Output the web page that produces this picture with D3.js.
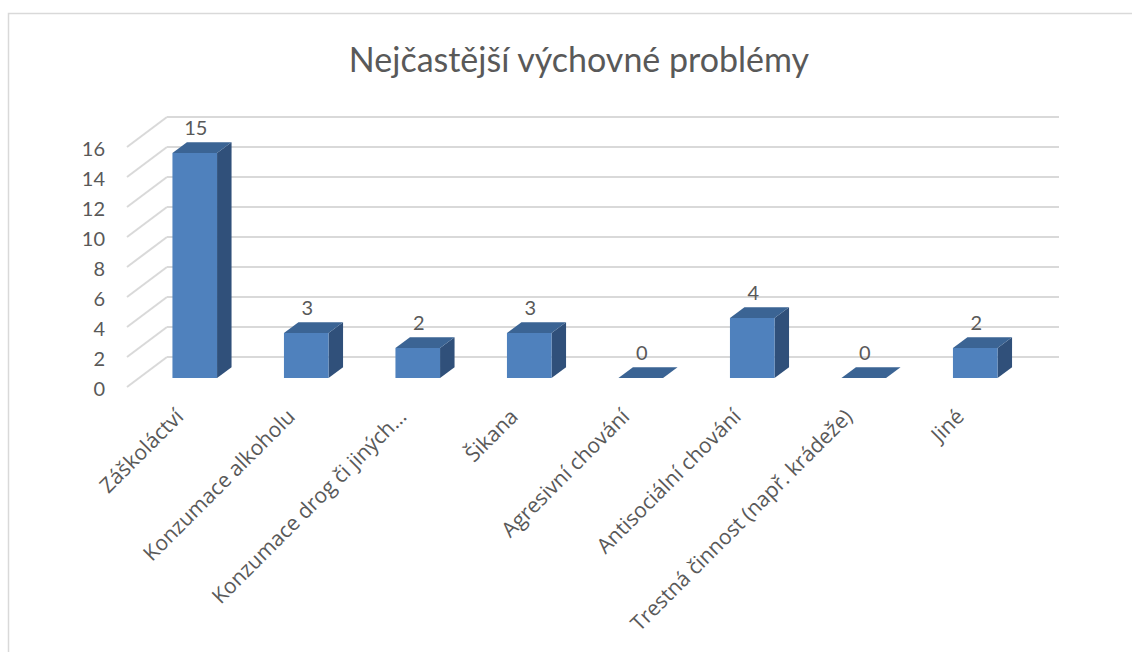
<!DOCTYPE html>
<html>
<head>
<meta charset="utf-8">
<script src="https://cdn.jsdelivr.net/npm/d3@7"></script>
<style>
    body { margin: 0; background: #fff; }
    text { font-family: Lato, "Open Sans", sans-serif; fill: #595959; }
    text.xlabel { font-family: "Open Sans", Lato, sans-serif; }
</style>
</head>
<body>
<div id="chart"></div>
<script>
// 3D column chart - "Nejčastější výchovné problémy"

const chartTitle = "Nejčastější výchovné problémy";
const categories = ["Záškoláctví", "Konzumace alkoholu", "Konzumace drog či jiných…", "Šikana",
                    "Agresivní chování", "Antisociální chování", "Trestná činnost (např. krádeže)", "Jiné"];
const counts = [15, 3, 2, 3, 0, 4, 0, 2];
const yTicks = [0, 2, 4, 6, 8, 10, 12, 14, 16];

class ProblemChart{
    constructor(){
        this.width = 1132;
        this.height = 652;
        // depth of the "box" (back wall offset) and where bars sit inside it
        this.depth = {dx: 40, dy: -30};
        this.barFront = 0.3;
        this.barDepth = 0.3625;

        this.svg = d3.select("#chart")
                     .append("svg")
                     .attr("width", this.width)
                     .attr("height", this.height);

        // outer frame
        this.svg.append("rect")
            .attr("x", 8.5)
            .attr("y", 13.5)
            .attr("width", 1200)
            .attr("height", 700)
            .style("fill", "none")
            .style("stroke", "#d9d9d9")
            .style("stroke-width", 1.5);

        this.x = d3.scaleBand()
                .domain(categories)
                .range([127, 1019])
                .paddingInner(0.6)
                .paddingOuter(0.3);
        this.y = d3.scaleLinear()
                .domain([0, 16])
                .range([387, 147]);

        this.drawTitle();
        this.drawWalls();
        this.drawBars();
        this.drawLabels();
    }

    drawTitle(){
        this.svg.append("text")
            .attr("x", 579)
            .attr("y", 72)
            .attr("text-anchor", "middle")
            .style("font-size", "34px")
            .text(chartTitle);
    }

    drawWalls(){
        let that = this;
        let x0 = this.x.range()[0], x1 = this.x.range()[1];
        let dx = this.depth.dx, dy = this.depth.dy;

        // back wall gridlines
        this.svg.selectAll(".grid")
            .data(yTicks)
            .enter().append("line")
            .attr("class", "grid")
            .attr("x1", x0 + dx)
            .attr("x2", x1 + dx)
            .attr("y1", d => that.y(d) + dy)
            .attr("y2", d => that.y(d) + dy)
            .style("stroke", "#d9d9d9")
            .style("stroke-width", 2);

        // side wall diagonals
        this.svg.selectAll(".sidegrid")
            .data(yTicks)
            .enter().append("line")
            .attr("class", "sidegrid")
            .attr("x1", x0)
            .attr("x2", x0 + dx)
            .attr("y1", d => that.y(d))
            .attr("y2", d => that.y(d) + dy)
            .style("stroke", "#d9d9d9")
            .style("stroke-width", 2);

        // y tick labels
        this.svg.selectAll(".ytick")
            .data(yTicks)
            .enter().append("text")
            .attr("class", "ytick")
            .attr("x", 105)
            .attr("y", d => that.y(d) + 9)
            .attr("text-anchor", "end")
            .style("font-size", "20px")
            .text(d => d);
    }

    drawBars(){
        let that = this;
        let bw = this.x.bandwidth();
        let fx = this.depth.dx * this.barFront, fy = this.depth.dy * this.barFront;
        let sx = this.depth.dx * this.barDepth, sy = this.depth.dy * this.barDepth;
        let data = categories.map((c, i) => ({cat: c, value: counts[i]}));

        let g = this.svg.selectAll(".bar")
            .data(data)
            .enter().append("g")
            .attr("class", "bar");

        function corners(d){
            let left = that.x(d.cat) + fx;
            let right = left + bw;
            let top = that.y(d.value) + fy;
            let bottom = that.y(0) + fy;
            return {left, right, top, bottom};
        }

        // right side face
        g.append("path")
            .attr("d", d => {
                let c = corners(d);
                return d3.line()([[c.right, c.top], [c.right + sx, c.top + sy],
                                  [c.right + sx, c.bottom + sy], [c.right, c.bottom]]) + "Z";
            })
            .style("fill", "#30507a");

        // front face
        g.append("rect")
            .attr("x", d => corners(d).left)
            .attr("y", d => corners(d).top)
            .attr("width", bw)
            .attr("height", d => corners(d).bottom - corners(d).top)
            .style("fill", "#4f81bd");

        // top face
        g.append("path")
            .attr("d", d => {
                let c = corners(d);
                return d3.line()([[c.left, c.top], [c.left + sx, c.top + sy],
                                  [c.right + sx, c.top + sy], [c.right, c.top]]) + "Z";
            })
            .style("fill", "#3b6494");

        // value labels
        g.append("text")
            .attr("x", d => corners(d).left + bw / 2 + 1)
            .attr("y", d => corners(d).top + sy - 7.5)
            .attr("text-anchor", "middle")
            .style("font-size", "20px")
            .text(d => d.value);
    }

    drawLabels(){
        let that = this;
        this.svg.selectAll(".xlabel")
            .data(categories)
            .enter().append("text")
            .attr("class", "xlabel")
            .attr("transform", d => "translate(" + (that.x(d) + that.x.bandwidth() / 2 + 2) + ",418) rotate(-45)")
            .attr("text-anchor", "end")
            .style("font-size", "21px")
            .text(d => d);
    }
}

new ProblemChart();
</script>
</body>
</html>
